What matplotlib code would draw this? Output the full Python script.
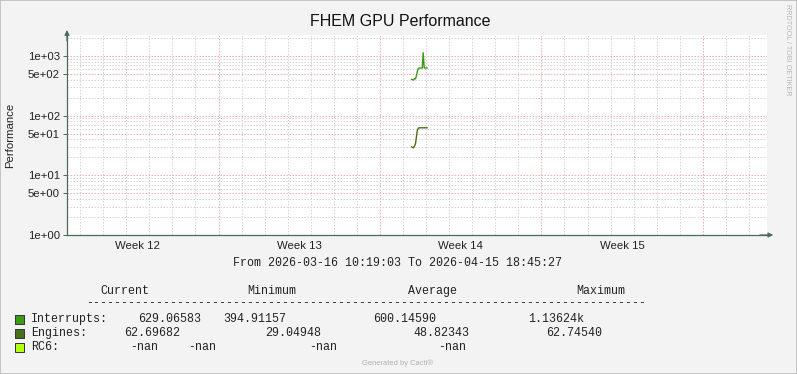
import matplotlib
matplotlib.use('Agg')
import matplotlib.pyplot as plt
from matplotlib.patches import Rectangle
import pandas as pd

W, H = 797, 374
plt.rcParams['font.family'] = ['Liberation Sans', 'DejaVu Sans']
MONO = ['Liberation Mono', 'DejaVu Sans Mono']
FS = 8.4

# time range of the graph
t_start = pd.Timestamp('2026-03-16 10:19:03')
t_end = pd.Timestamp('2026-04-15 18:45:27')

# hourly samples (the only stretch with data)
times = pd.date_range('2026-03-31 09:00', periods=17, freq='h')
interrupts = [405, 400, 395, 420, 415, 470, 560, 625, 628, 630, 626, 632, 1136, 630, 628, 629, 629]
engines = [30.0, 29.2, 29.05, 31.0, 34.0, 45.0, 58.0, 62.0, 62.5, 62.6, 62.7, 62.7, 62.6, 62.75, 62.7, 62.7, 62.7]

week_labels = ['Week 12', 'Week 13', 'Week 14', 'Week 15']
week_mid = pd.to_datetime(['2026-03-19 12:00', '2026-03-26 12:00', '2026-04-02 12:00', '2026-04-09 12:00'])
ytick_vals = [1, 5, 10, 50, 100, 500, 1000]
ytick_labels = ['1e+00', '5e+00', '1e+01', '5e+01', '1e+02', '5e+02', '1e+03']

legend_names = ['Interrupts:', 'Engines:', 'RC6:']
legend_colors = ['#3a9a14', '#4a6f1a', '#b5ff14']
legend_current = ['629.06583', '62.69682', '-nan']
legend_min = ['394.91157', '29.04948', '-nan']
legend_avg = ['600.14590', '48.82343', '-nan']
legend_max = ['1.13624k', '62.74540', '-nan']

AXC = '#4a6a5a'
RED = '#efb0b0'
GRAY = '#d6d6d6'

fig = plt.figure(figsize=(W / 100, H / 100), dpi=100)
fig.patch.set_facecolor('#f3f3f3')
ax = fig.add_axes([67 / W, 1 - 235 / H, 700 / W, 200 / H])
ax.set_facecolor('#ffffff')
ax.set_yscale('log')
ax.set_xlim(t_start, t_end)
ax.set_ylim(1, 2250)

# grid (dotted)
gkw = dict(lw=0.72, dashes=(1.5, 1.5), zorder=1)
for d in pd.date_range('2026-03-17', '2026-04-15', freq='D'):
    c = RED if d.weekday() == 0 else GRAY
    ax.axvline(d, color=c, **gkw)
for dec in [1, 10, 100, 1000]:
    for k in range(2, 10):
        v = k * dec
        if v < 2250 and k != 5:
            ax.axhline(v, color=GRAY, **gkw)
for v in ytick_vals[1:]:
    ax.axhline(v, color=RED, **gkw)

ax.plot(times, interrupts, color=legend_colors[0], lw=1, zorder=3)
ax.plot(times, engines, color=legend_colors[1], lw=1, zorder=3)

for s in ['top', 'right']:
    ax.spines[s].set_visible(False)
for s in ['left', 'bottom']:
    ax.spines[s].set_color(AXC)
    ax.spines[s].set_linewidth(0.9)

ax.set_yticks(ytick_vals)
ax.set_yticklabels(ytick_labels)
ax.minorticks_off()
ax.tick_params(axis='y', length=3, width=0.7, color=AXC, pad=2, labelsize=8.2, labelcolor='#222')
ax.set_xticks(week_mid)
ax.set_xticklabels(week_labels)
ax.tick_params(axis='x', length=0, pad=4, labelsize=8.2, labelcolor='#222')

# axis arrows
ax.annotate('', xy=(1.009, 0), xytext=(0.99, 0), xycoords='axes fraction',
            arrowprops=dict(arrowstyle='-|>', color=AXC, lw=0.9, mutation_scale=7, shrinkA=0, shrinkB=0))
ax.annotate('', xy=(0, 1.025), xytext=(0, 0.97), xycoords='axes fraction',
            arrowprops=dict(arrowstyle='-|>', color=AXC, lw=0.9, mutation_scale=7, shrinkA=0, shrinkB=0))


def px(x, y):
    return x / W, 1 - y / H


fig.text(*px(400, 22), 'FHEM GPU Performance', ha='center', va='center', fontsize=11.5, color='#111')
fig.text(*px(10, 135), 'Performance', rotation=90, ha='center', va='center', fontsize=8.2, color='#222')
fig.text(*px(788, 50), 'RRDTOOL / TOBI OETIKER', rotation=270, ha='center', va='center', fontsize=5.2, color='#b8b8b8')
fig.text(*px(233, 263), 'From 2026-03-16 10:19:03 To 2026-04-15 18:45:27', ha='left', va='center',
         fontsize=FS, family=MONO, color='#222')

# legend table
for x, h in zip([100, 247, 408, 576], ['Current', 'Minimum', 'Average', 'Maximum']):
    fig.text(*px(x, 291), h, ha='left', va='center', fontsize=FS, family=MONO, color='#222')
fig.text(*px(86, 303), '-' * 80, ha='left', va='center', fontsize=FS, family=MONO, color='#222')

row_y = [319, 333, 347]
cur_x = [138, 124, 130]
min_x = [223, 265, 188]
avg_x = [373, 413, 309]
max_x = [528, 546, 438]
for i in range(3):
    y = row_y[i]
    fig.patches.append(Rectangle(px(15, y + 5), 9 / W, 9 / H, transform=fig.transFigure,
                                 facecolor=legend_colors[i], edgecolor='#333', lw=0.7))
    fig.text(*px(31, y), legend_names[i], ha='left', va='center', fontsize=FS, family=MONO, color='#222')
    fig.text(*px(cur_x[i], y), legend_current[i], ha='left', va='center', fontsize=FS, family=MONO, color='#222')
    fig.text(*px(min_x[i], y), legend_min[i], ha='left', va='center', fontsize=FS, family=MONO, color='#222')
    fig.text(*px(avg_x[i], y), legend_avg[i], ha='left', va='center', fontsize=FS, family=MONO, color='#222')
    fig.text(*px(max_x[i], y), legend_max[i], ha='left', va='center', fontsize=FS, family=MONO, color='#222')

fig.text(*px(398, 363), 'Generated by Cacti®', ha='center', va='center', fontsize=5.4, color='#b0b0b0')

fig.patches.append(Rectangle((0, 0), 1, 1, transform=fig.transFigure, fill=False,
                             edgecolor='#bcbcbc', lw=1.2))

fig.savefig('out.png', dpi=100, facecolor=fig.get_facecolor())
